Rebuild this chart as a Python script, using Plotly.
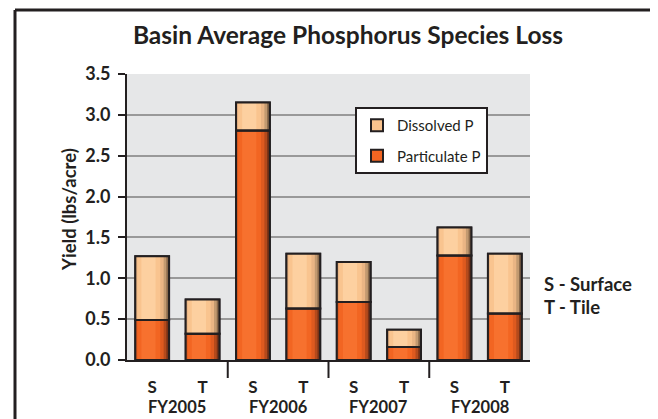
import plotly.graph_objects as go

years = ["FY2005", "FY2006", "FY2007", "FY2008"]
sites = ["S", "T", "S", "T", "S", "T", "S", "T"]
particulate = [0.49, 0.32, 2.81, 0.63, 0.71, 0.16, 1.28, 0.57]
total = [1.27, 0.74, 3.15, 1.30, 1.20, 0.37, 1.62, 1.30]
dissolved = [round(t - p, 2) for t, p in zip(total, particulate)]
y_ticks = [0.0, 0.5, 1.0, 1.5, 2.0, 2.5, 3.0, 3.5]

xpos = list(range(len(sites)))
FONT = "Lato"
DARK = "#231f20"
BW = 0.67  # bar width in category units

# page body has an 8px margin: work in reference window pixels, shift by OFF
OFF = 8
W, H = 658 - OFF, 419 - OFF
L = 127 - OFF
R = W - (530 - OFF)
T = 74 - OFF
B = H - (360 - OFF)
pw, ph = W - L - R, H - T - B


def px(x):
    return (x - OFF - L) / pw


def py(y):
    return (H - (y - OFF) - B) / ph


series = [
    # name, values, base, shading layers (start, end, colour) as fractions of the bar width
    ("Particulate P", particulate, [0] * len(particulate),
     [(0.0, 1.0, "#7a3216"), (0.0, 0.92, "#b44a1c"), (0.0, 0.84, "#de5a1f"),
      (0.06, 0.74, "#f26522"), (0.18, 0.6, "#f7712e")], "#F26522", 2),
    ("Dissolved P", dissolved, particulate,
     [(0.0, 1.0, "#8a6a4c"), (0.0, 0.92, "#c39a70"), (0.0, 0.84, "#eab584"),
      (0.06, 0.74, "#f9c48f"), (0.18, 0.6, "#fdd0a0")], "#FAC38D", 1),
]

fig = go.Figure()
for name, vals, base, layers, legcol, rank in series:
    # legend-carrying full bar (hidden beneath the shading)
    fig.add_trace(go.Bar(x=xpos, y=vals, base=base, name=name, width=BW,
                         legendrank=rank, legendgroup=name,
                         marker=dict(color=legcol, line=dict(color=DARK, width=2))))
    for a, b, col in layers:
        fig.add_trace(go.Bar(x=xpos, y=vals, base=base, width=BW * (b - a),
                             offset=-BW / 2 + BW * a, showlegend=False, hoverinfo="skip",
                             legendgroup=name,
                             marker=dict(color=col, line=dict(width=0))))
for name, vals, base, layers, legcol, rank in series:
    fig.add_trace(go.Bar(x=xpos, y=vals, base=base, width=BW, showlegend=False,
                         hoverinfo="skip", legendgroup=name,
                         marker=dict(color="rgba(0,0,0,0)", line=dict(color=DARK, width=2))))

shapes = []
# outer frame (left and top)
shapes.append(dict(type="line", xref="paper", yref="paper", x0=px(15), x1=px(720),
                   y0=py(10), y1=py(10), line=dict(color=DARK, width=3)))
shapes.append(dict(type="line", xref="paper", yref="paper", x0=px(15), x1=px(15),
                   y0=py(10), y1=py(470), line=dict(color=DARK, width=3)))
# group dividers
for i in range(1, len(years)):
    xd = 2 * i - 0.5
    shapes.append(dict(type="line", xref="x", yref="paper", x0=xd, x1=xd,
                       y0=0, y1=py(378), line=dict(color=DARK, width=2)))

annotations = []
for i, yr in enumerate(years):
    annotations.append(dict(x=2 * i + 0.5, xref="x", y=py(407), yref="paper",
                            text=yr, showarrow=False, yanchor="middle",
                            font=dict(family=FONT, size=16.5, color=DARK, weight="bold")))
annotations.append(dict(x=px(542), xref="paper", y=py(284), yref="paper", text="S - Surface",
                        showarrow=False, xanchor="left", yanchor="middle",
                        font=dict(family=FONT, size=18.5, color=DARK, weight="bold")))
annotations.append(dict(x=px(542), xref="paper", y=py(307), yref="paper", text="T - Tile",
                        showarrow=False, xanchor="left", yanchor="middle",
                        font=dict(family=FONT, size=18.5, color=DARK, weight="bold")))
annotations.append(dict(x=px(69), xref="paper", y=py(210), yref="paper",
                        text="Yield (lbs/acre)", textangle=-90, showarrow=False,
                        xanchor="center", yanchor="middle",
                        font=dict(family=FONT, size=18.5, color=DARK, weight="bold")))

fig.update_layout(
    width=W, height=H,
    margin=dict(l=L, r=R, t=T, b=B),
    paper_bgcolor="white",
    plot_bgcolor="#E6E7E8",
    barmode="overlay",
    title=dict(text="Basin Average Phosphorus Species Loss", x=(348 - OFF) / W,
               xanchor="center", y=1 - (35 - OFF) / H, yanchor="middle",
               font=dict(family=FONT, size=24.5, color=DARK, weight="bold")),
    legend=dict(x=px(355), y=py(107), xanchor="left", yanchor="top",
                bgcolor="white", bordercolor=DARK, borderwidth=2,
                traceorder="grouped", tracegroupgap=8, itemwidth=30,
                font=dict(family=FONT, size=15, color=DARK)),
    xaxis=dict(tickmode="array", tickvals=xpos, ticktext=sites, range=[-0.5, 7.5],
               showgrid=False, zeroline=False, showline=True, linecolor=DARK, linewidth=2,
               ticks="", ticklabelstandoff=11,
               tickfont=dict(family=FONT, size=17, color=DARK, weight="bold")),
    yaxis=dict(range=[0, 3.5], tickvals=y_ticks, tickformat=".1f",
               showgrid=True, gridcolor="#999999", gridwidth=2, zeroline=False,
               showline=True, linecolor=DARK, linewidth=2,
               ticks="outside", ticklen=7, tickwidth=2, tickcolor=DARK,
               ticklabelstandoff=4,
               tickfont=dict(family=FONT, size=18, color=DARK, weight="bold")),
    shapes=shapes,
    annotations=annotations,
)

fig.write_html("out.html")
